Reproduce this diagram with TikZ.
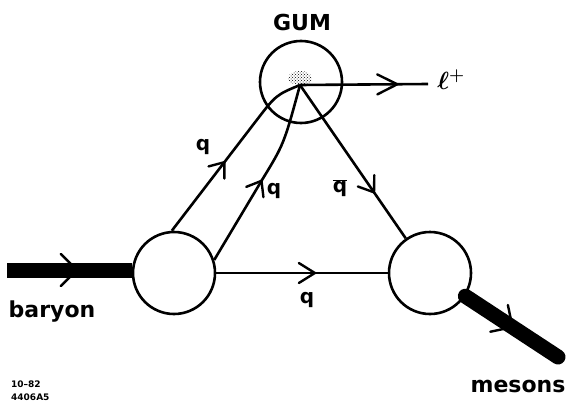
\documentclass[tikz,border=0pt]{standalone}
\usepackage{fontspec}
\setmainfont{DejaVu Sans}
\usetikzlibrary{decorations.markings,patterns}

\tikzset{
  ln/.style={line width=2.6pt},
  fat/.style={line width=15pt},
  blob/.style={circle,draw,line width=2.6pt,minimum size=82pt,inner sep=0pt},
  chev/.style n args={3}{decoration={markings,
      mark=at position #1 with {\draw[line width=2.4pt,line cap=round,line join=round]
        (-#2pt,#3pt) -- (0pt,0pt) -- (-#2pt,-#3pt);}},
      postaction=decorate},
  lbl/.style={font=\fontsize{22}{24}\selectfont\bfseries, inner sep=0pt},
  ql/.style={font=\fontsize{20}{22}\selectfont\bfseries, inner sep=0pt},
  tiny/.style={font=\fontsize{9}{10}\selectfont\bfseries, inner sep=0pt, anchor=west},
}

\begin{document}
\begin{tikzpicture}[x=1pt,y=-1pt]
\useasboundingbox (0,0) rectangle (569,409);

% vertices / blobs
\node[blob] (B) at (174,273) {};
\node[blob] (M) at (430,273) {};
\node[blob] (G) at (301,82) {};
\coordinate (V) at (300,85);
\fill[pattern=crosshatch dots] (300,78) ellipse (12 and 7);

% free ends and bend points
\coordinate (bin) at (7,270);
\coordinate (mout) at (558,357);
\coordinate (L) at (428,84);
\coordinate (k1) at (276,95);
\coordinate (p1) at (256,121);
\coordinate (k2) at (284,144);
\coordinate (p2) at (262,180);

% baryon and mesons (thick)
\draw[fat,chev={0.56}{16}{16}] (bin) -- (bin -| B.west);
\draw[fat,line cap=round,chev={0.51}{16}{16}] (M) -- (mout);

% quark lines
\draw[ln,chev={0.44}{13}{10}] (B.93) -- (p1) .. controls (k1) .. (V);
\draw[ln,chev={0.47}{13}{10}] (B.18) -- (p2) .. controls (k2) .. (V);
\draw[ln,chev={0.70}{14}{10}] (V) -- (M.125);
\draw[ln,chev={0.575}{16}{10}] (B.east) -- (M.west);
\draw[ln,chev={0.76}{20}{10}] (V) -- (L);

% labels
\node[lbl] (tG) at (302,22) {GUM};
\node[font=\fontsize{26}{28}\selectfont\boldmath, inner sep=0pt] (tl) at (451,80) {$\ell^{+}$};
\node[ql] (q1) at (203,147) {q};
\node[ql] (q2) at (274,191) {q};
\node[ql] (qb) at (340,188) {$\overline{\mbox{q}}$};
\node[ql] (q3) at (307,300) {q};
\node[lbl] (tb) at (52,312) {baryon};
\node[lbl] (tm) at (518,386) {mesons};
\node[tiny] (s1) at (11,384) {10--82};
\node[tiny] (s2) at (11,397) {4406A5};
\end{tikzpicture}
\end{document}
